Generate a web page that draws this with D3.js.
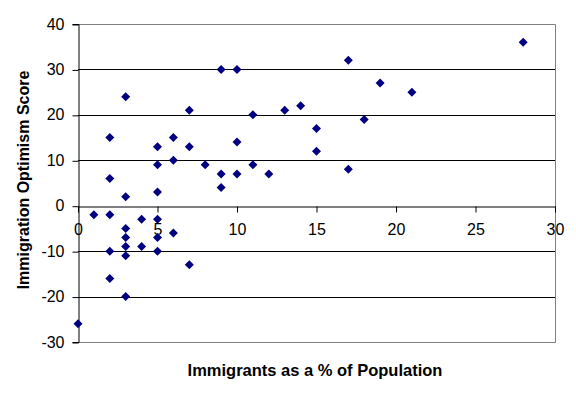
<!DOCTYPE html>
<html>
<head>
<meta charset="utf-8">
<script src="https://cdn.jsdelivr.net/npm/d3@7"></script>
<style>
  html, body { margin: 0; padding: 0; background: #fff; }
  svg { display: block; }
</style>
</head>
<body>
<div id="chart"></div>
<script>
// immigrants as % of population vs optimism score, one entry per country
const immigrantsPct = [0, 1, 2, 2, 2, 2, 2, 3, 3, 3, 3, 3, 3, 3, 4, 4,
  5, 5, 5, 5, 5, 5, 6, 6, 6, 7, 7, 7, 8, 9, 9, 9, 10, 10, 10, 11, 11, 12,
  13, 14, 15, 15, 17, 17, 18, 19, 21, 28];
const optimismScore = [-26, -2, 15, 6, -2, -10, -16, 24, 2, -5, -7, -9, -11, -20, -3, -9,
  13, 9, 3, -3, -7, -10, 15, 10, -6, 21, 13, -13, 9, 30, 7, 4, 30, 14, 7, 20, 9, 7,
  21, 22, 17, 12, 32, 8, 19, 27, 25, 36];
const xTicks = [0, 5, 10, 15, 20, 25, 30];
const yTicks = [-30, -20, -10, 0, 10, 20, 30, 40];

const points = immigrantsPct.map((d, i) => ({ x: d, y: optimismScore[i] }));

const width = 576, height = 394;
const margin = { top: 24, right: 21, bottom: 52, left: 78 };
const plotW = width - margin.left - margin.right;
const plotH = height - margin.top - margin.bottom;
const fontFamily = "Arial, 'Liberation Sans', sans-serif";

const svg = d3.select("#chart")
  .append("svg")
    .attr("width", width)
    .attr("height", height)
    .style("font-family", fontFamily);

svg.append("rect").attr("width", width).attr("height", height).attr("fill", "#fff");

const g = svg.append("g")
  .attr("transform", "translate(" + margin.left + "," + margin.top + ")");

const x = d3.scaleLinear().domain([0, 30]).range([0, plotW]);
const y = d3.scaleLinear().domain([-30, 40]).range([plotH, 0]);

// gridlines (the 0 line is drawn by the x axis)
g.append("g")
  .selectAll("line")
  .data(yTicks.filter(t => t !== 0 && t !== 40 && t !== -30))
  .enter().append("line")
    .attr("x1", 0).attr("x2", plotW)
    .attr("y1", d => Math.round(y(d)) + 0.5)
    .attr("y2", d => Math.round(y(d)) + 0.5)
    .attr("stroke", "#000")
    .attr("stroke-width", 1);

// plot border: top, right, bottom in grey
g.append("path")
  .attr("d", "M0," + (Math.round(y(40)) + 0.5) + "H" + (Math.round(x(30)) + 0.5) +
    "V" + (Math.round(y(-30)) + 0.5) + "H0")
  .attr("fill", "none")
  .attr("stroke", "#808080");

// y axis
const yAxis = g.append("g")
  .attr("transform", "translate(0.5,0)")
  .call(d3.axisLeft(y).tickValues(yTicks).tickSize(6).tickPadding(8)
    .tickFormat(d => String(d)));
yAxis.select(".domain").attr("stroke", "#000");
yAxis.selectAll(".tick line").attr("stroke", "#000")
  .attr("transform", "translate(0,0.5)");
yAxis.selectAll("text").style("font-size", "16px").attr("fill", "#000")
  .attr("font-family", fontFamily);

// x axis crossing at 0
const xAxis = g.append("g")
  .attr("transform", "translate(0," + (Math.round(y(0)) + 0.5) + ")")
  .call(d3.axisBottom(x).tickValues(xTicks).tickSize(6).tickSizeOuter(0).tickPadding(11)
    .tickFormat(d => String(d)));
xAxis.select(".domain").attr("stroke", "#000");
xAxis.selectAll(".tick line").attr("stroke", "#000");
xAxis.selectAll("text").style("font-size", "16px").attr("fill", "#000")
  .attr("font-family", fontFamily);

// markers
const diamond = 4.5;
g.append("g")
  .selectAll("path")
  .data(points)
  .enter().append("path")
    .attr("transform", d => "translate(" + x(d.x) + "," + y(d.y) + ")")
    .attr("d", "M0," + (-diamond) + "L" + diamond + ",0L0," + diamond + "L" + (-diamond) + ",0Z")
    .attr("fill", "#000080");

// axis titles
svg.append("text")
  .attr("x", 315)
  .attr("y", 376)
  .attr("text-anchor", "middle")
  .style("font-size", "16.5px")
  .style("font-weight", "bold")
  .text("Immigrants as a % of Population");

svg.append("text")
  .attr("transform", "translate(29,180) rotate(-90)")
  .attr("text-anchor", "middle")
  .style("font-size", "16px")
  .style("font-weight", "bold")
  .text("Immigration Optimism Score");
</script>
</body>
</html>
